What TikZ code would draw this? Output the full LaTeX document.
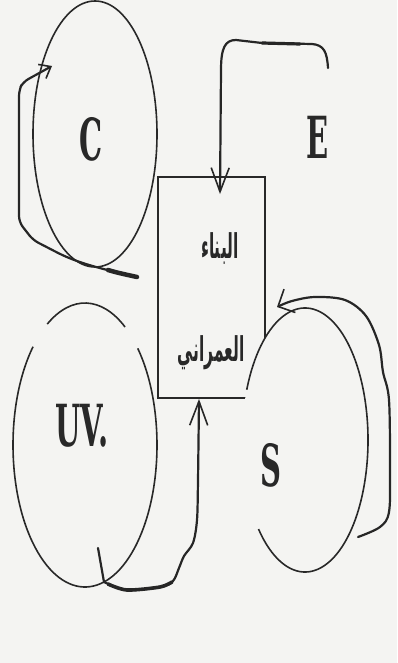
\documentclass[tikz,border=0pt]{standalone}
\usepackage{graphicx}
\usepackage{fontspec}
\usetikzlibrary{shapes.geometric,arrows.meta}
\newfontfamily\arabicfont[Script=Arabic]{DejaVu Sans}
\newfontfamily\letterfont{DejaVu Serif}
\TeXXeTstate=1
\definecolor{bg}{RGB}{244,244,242}
\definecolor{ink}{RGB}{40,40,40}
\begin{document}
\begin{tikzpicture}[x=1pt,y=-1pt,
  ring/.style={ellipse,inner sep=0pt,outer sep=0pt},
  thinline/.style={draw=ink,line width=1.6pt},
  fb/.style={draw=black!85,line width=2.2pt,line cap=round,line join=round},
  tipv/.style={-{Straight Barb[length=24pt,width=18pt,line width=1.6pt]}},
  tiph/.style={-{Straight Barb[length=13pt,width=26pt,line width=1.6pt]}},
  tipc/.style={-{Straight Barb[length=10pt,width=16pt,line width=1.6pt]}},
  letter/.style={font=\letterfont\bfseries\fontsize{29}{30}\selectfont,inner sep=0pt,text=ink},
  ar/.style={font=\arabicfont\bfseries\fontsize{15.5}{18}\selectfont,inner sep=0pt,text=ink}]
\fill[bg] (0,0) rectangle (397,663);
\useasboundingbox (0,0) rectangle (397,663);

% central box
\node[thinline,rectangle,inner sep=0pt,outer sep=0pt,minimum width=107pt,minimum height=221pt] (box) at (211.5,287.5) {};
\node[ar] (t1) at (220,249) {\scalebox{1}[2.2]{\beginR البناء\endR}};
\node[ar] (t2) at (211,353) {\scalebox{1}[2.2]{\beginR العمراني\endR}};

% C
\node[ring,thinline,minimum width=124pt,minimum height=266pt] (Cr) at (95,134) {};
\node[letter] (C) at (91,139) {\scalebox{1}[2]{C}};

% E
\node[letter] (E) at (318,137) {\scalebox{1}[2]{E}};

% UV
\node[ring,minimum width=144pt,minimum height=284pt] (UVr) at (85,445) {};
\draw[thinline] ([shift={(56.2:72pt and 142pt)}]UVr.center) arc[start angle=56.2,end angle=121.6,x radius=72pt,y radius=142pt];
\draw[thinline] ([shift={(136.2:72pt and 142pt)}]UVr.center) arc[start angle=136.2,end angle=402.9,x radius=72pt,y radius=142pt];
\node[letter] (UV) at (82,426) {\scalebox{1}[2]{UV.}};

% S
\node[ring,fill=bg,minimum width=126pt,minimum height=264pt] (Sr) at (305,440) {};
\draw[thinline] ([shift={(157.6:63pt and 132pt)}]Sr.center) arc[start angle=157.6,end angle=-137.6,x radius=63pt,y radius=132pt];
\node[letter] (S) at (271,465) {\scalebox{1}[2]{S}};

% feedback loop C
\coordinate (Cs) at (137,277);
\coordinate (Ct) at (52,66);
\draw[fb,tipc,rounded corners=6pt] (Cs) .. controls (115,272) and (88,266) .. (62,255) -- (33,240) -- (19,222) -- (19,90) -- (23,82) -- (Ct);
\draw[black!85,line width=4.5pt,line cap=round] (Cs) .. controls (128,275) and (118,273) .. (108,270);

% E arrow
\coordinate (Es) at (328,68);
\coordinate (Et) at (220,194);
\draw[fb,tipv] (Es) .. controls (327,52) and (324,45) .. (312,44) -- (262,43) -- (236,40) .. controls (225,40) and (221,48) .. (221,70) -- (Et);
\draw[black!85,line width=3.2pt,line cap=round] (300,44) -- (262,43);

% S loop
\coordinate (Ss) at (358,537);
\coordinate (St) at (277,307);
\draw[fb,tiph] plot[smooth,tension=0.55] coordinates {(Ss) (380,527) (389,512) (390,470) (389,400) (383,372) (379,345) (366,316) (345,300) (315,297) (292,301) (St)};

% UV loop
\coordinate (Us) at (98,548);
\coordinate (Ut) at (199,399);
\draw[fb,tipv] (Us) -- plot[smooth,tension=0.5] coordinates {(104,582) (127,590) (160,587) (173,581) (179,568) (184,556) (193,543) (197,520) (198,480) (Ut)};
\draw[black!85,line width=3.6pt,line cap=round] plot[smooth,tension=0.5] coordinates {(108,584) (127,590) (160,587) (172,582)};
\end{tikzpicture}
\end{document}
